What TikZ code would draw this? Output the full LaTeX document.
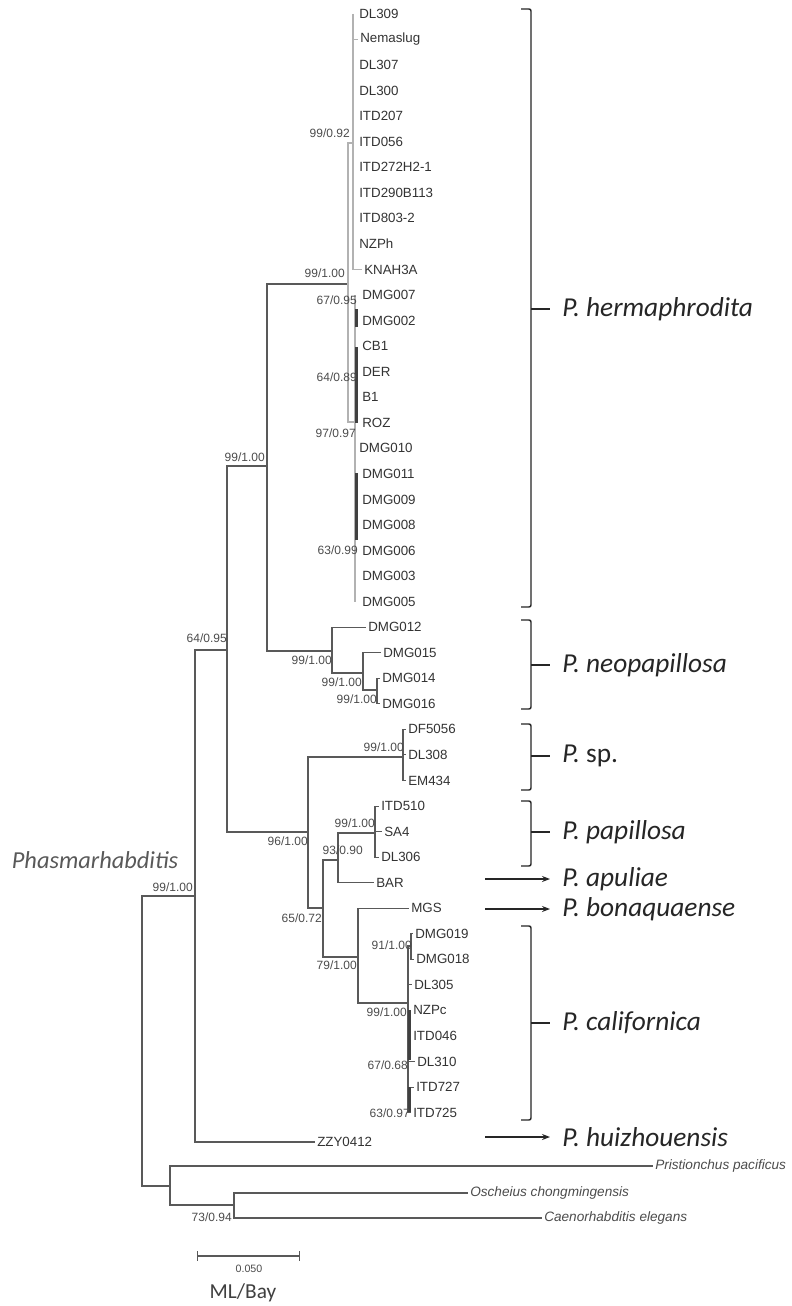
\documentclass[tikz,border=0pt]{standalone}
\usepackage{fontspec}
\setmainfont{Liberation Sans}
\newfontfamily\calib{Carlito}
\usepackage{tikz}
\usetikzlibrary{arrows.meta,positioning,calc}

\begin{document}
\begin{tikzpicture}[
    x=0.75pt, y=-0.75pt,
    every node/.style={font=\fontsize{10}{11}\selectfont},
    branch/.style={draw=black!65, line width=0.8pt},
    lightbranch/.style={draw=gray!60, line width=1pt},
    subclade/.style={draw=black!75, line width=1.6pt},
    leaf/.style={anchor=west, inner xsep=1.5pt, inner ysep=0pt, text=black!80},
    outleaf/.style={leaf, font=\fontsize{10.2}{11}\selectfont\itshape, text=black!70},
    support/.style={anchor=east, inner sep=0pt, font=\fontsize{9}{10}\selectfont, text=black!70},
    species/.style={anchor=west, inner xsep=1.5pt, font=\calib\fontsize{20.5}{22}\selectfont, text=black!85},
    bracketline/.style={draw=black!85, line width=1.1pt, rounded corners=1.5pt},
    sparrow/.style={-{Stealth[length=6pt,width=4.5pt]}, draw=black!85, line width=0.9pt},
]
\useasboundingbox[fill=white] (0,0) rectangle (792,1306);

% -------- Leaves --------
\foreach \i/\nm/\lx in {0/DL309/357, 1/Nemaslug/358, 2/DL307/357, 3/DL300/357,
    4/ITD207/357, 5/ITD056/357, 6/ITD272H2-1/357, 7/ITD290B113/357,
    8/ITD803-2/357, 9/NZPh/357, 10/KNAH3A/362, 11/DMG007/360, 12/DMG002/360,
    13/CB1/360, 14/DER/360, 15/B1/360, 16/ROZ/360, 17/DMG010/357,
    18/DMG011/360, 19/DMG009/360, 20/DMG008/360, 21/DMG006/360,
    22/DMG003/360, 23/DMG005/360, 24/DMG012/366, 25/DMG015/381,
    26/DMG014/380, 27/DMG016/380, 28/DF5056/406, 29/DL308/406, 30/EM434/406,
    31/ITD510/379, 32/SA4/382, 33/DL306/379, 34/BAR/374, 35/MGS/409,
    36/DMG019/413, 37/DMG018/414, 38/DL305/412, 39/NZPc/411, 40/ITD046/411,
    41/DL310/415, 42/ITD727/414, 43/ITD725/411}{
  \node[leaf] (L\i) at (\lx, {14+25.55*\i}) {\nm};
}
\node[leaf] (Lzzy) at (315, 1142) {ZZY0412};
\node[outleaf] (Lpri) at (653, 1166) {Pristionchus pacificus};
\node[outleaf] (Losc) at (468, 1193) {Oscheius chongmingensis};
\node[outleaf] (Lcae) at (542, 1218) {Caenorhabditis elegans};

% -------- Internal nodes --------
\coordinate (root)  at (142, 1040);
\coordinate (nPhas) at (195, 896);
\coordinate (nOut)  at (170, 1186);
\coordinate (n73)   at (234, 1205);
\coordinate (n64)   at (227, 650);
\coordinate (n99a)  at (267, 466);
\coordinate (n99b)  at (348, 284);
\coordinate (n92)   at (353, 143);
\coordinate (n97)   at (355, 422);
\coordinate (nNeo)  at (332, 651);
\coordinate (nNeo2) at (363, 673);
\coordinate (nNeo3) at (377, 690);
\coordinate (n96)   at (308, 832);
\coordinate (nSp)   at (403, 757);
\coordinate (n65)   at (323, 908);
\coordinate (n93)   at (338, 860);
\coordinate (nPap)  at (375, 833);
\coordinate (n79)   at (358, 957);
\coordinate (nCal)  at (408, 1003);
\coordinate (n91)   at (411, 946);

% backbone and outgroups
\draw[branch] (root) |- (nPhas);
\draw[branch] (root) |- (nOut);
\draw[branch] (nOut) |- (Lpri.west);
\draw[branch] (nOut) |- (n73);
\draw[branch] (n73) |- (Losc.west);
\draw[branch] (n73) |- (Lcae.west);
\draw[branch] (nPhas) |- (n64);
\draw[branch] (nPhas) |- (Lzzy.west);
\draw[branch] (n64) |- (n99a);
\draw[branch] (n64) |- (n96);
\draw[branch] (n99a) |- (n99b);
\draw[branch] (n99a) |- (nNeo);

% P. hermaphrodita
\draw[lightbranch] (n99b) |- (n92);
\draw[lightbranch] (n99b) |- (n97);
\draw[lightbranch] (n92 |- L0) -- (n92 |- L10);
\draw[lightbranch] (n92 |- L1) -- (L1.west);
\draw[lightbranch] (n92 |- L10) -- (L10.west);
\draw[lightbranch] (n97 |- L11) -- (n97 |- L23);
\foreach \ya/\yb in {309/327, 347/423, 473/540}
  \draw[subclade] (356.5,\ya) -- (356.5,\yb);

% P. neopapillosa
\draw[branch] (nNeo) |- (L24.west);
\draw[branch] (nNeo) |- (nNeo2);
\draw[branch] (nNeo2) |- (L25.west);
\draw[branch] (nNeo2) |- (nNeo3);
\draw[branch] (nNeo3) |- (L26.west);
\draw[branch] (nNeo3) |- (L27.west);

% P. sp., P. papillosa, P. apuliae
\draw[branch] (n96) |- (nSp);
\draw[branch] (n96) |- (n65);
\foreach \i in {28,29,30} \draw[branch] (nSp) |- (L\i.west);
\draw[branch] (n65) |- (n93);
\draw[branch] (n65) |- (n79);
\draw[branch] (n93) |- (nPap);
\draw[branch] (n93) |- (L34.west);
\foreach \i in {31,32,33} \draw[branch] (nPap) |- (L\i.west);

% P. bonaquaense, P. californica
\draw[branch] (n79) |- (L35.west);
\draw[branch] (n79) |- (nCal);
\draw[branch] (nCal) |- (n91);
\draw[branch] (n91) |- (L36.west);
\draw[branch] (n91) |- (L37.west);
\foreach \i in {38,...,43} \draw[branch] (nCal) |- (L\i.west);
\foreach \ya/\yb in {1010/1060, 1087/1112}
  \draw[subclade] (409.5,\ya) -- (409.5,\yb);

% -------- Support values (ML/Bay) --------
\foreach \px/\py/\ml/\bay [count=\k] in {350/133/99/0.92, 345/273/99/1.00,
    357/300/67/0.95, 357/377/64/0.89, 356/433/97/0.97, 358/550/63/0.99,
    265/457/99/1.00, 227/638/64/0.95, 332/660/99/1.00, 362/682/99/1.00,
    377/699/99/1.00, 404/747/99/1.00, 308/841/96/1.00, 375/823/99/1.00,
    363/850/93/0.90, 322/918/65/0.72, 357/965/79/1.00, 412/945/91/1.00,
    407/1012/99/1.00, 408/1065/67/0.68, 410/1113/63/0.97, 193/887/99/1.00,
    232/1217/73/0.94}{
  \node[support] (sup\k) at (\px,\py) {\ml/\bay};
}

% -------- Species brackets --------
\foreach \nm/\ytop/\ybot/\ymid/\lab in {Herm/9/607/309/{\itshape P. hermaphrodita},
    Neo/620/709/665/{\itshape P. neopapillosa}, Sp/724/790/756/{{\itshape P.} sp.},
    Pap/801/866/832/{\itshape P. papillosa}, Cal/926/1120/1023/{\itshape P. californica}}{
  \coordinate (b\nm) at (531,\ymid);
  \node[species] (s\nm) at (560,\ymid) {\lab};
  \draw[bracketline] (521,\ytop) -- (531,\ytop) -- (531,\ybot) -- (521,\ybot);
  \draw[bracketline, shorten >=7.5pt] (b\nm) -- (s\nm.west);
}
\foreach \nm/\yy/\lab in {Apu/879/apuliae, Bon/909/bonaquaense, Hui/1137/huizhouensis}{
  \coordinate (a\nm) at (485,\yy);
  \node[species] (s\nm) at (560,\yy) {\itshape P. \lab};
  \draw[sparrow, shorten >=7.5pt] (a\nm) -- (s\nm.west);
}

\node[font=\calib\itshape\fontsize{18.3}{20}\selectfont, text=black!65] (genus) at (95,860) {Phasmarhabditis};

% -------- Scale bar --------
\coordinate (sbL) at (197,1256);
\coordinate (sbR) at (300,1256);
\draw[branch, {Bar[width=7pt]}-{Bar[width=7pt]}] (sbL) -- (sbR);
\node[font=\fontsize{8}{9}\selectfont, text=black!70] (sbval) at (249,1269) {0.050};
\node[font=\calib\fontsize{16}{18}\selectfont, text=black!75] (mlbay) at (243,1293) {ML/Bay};

\end{tikzpicture}
\end{document}
